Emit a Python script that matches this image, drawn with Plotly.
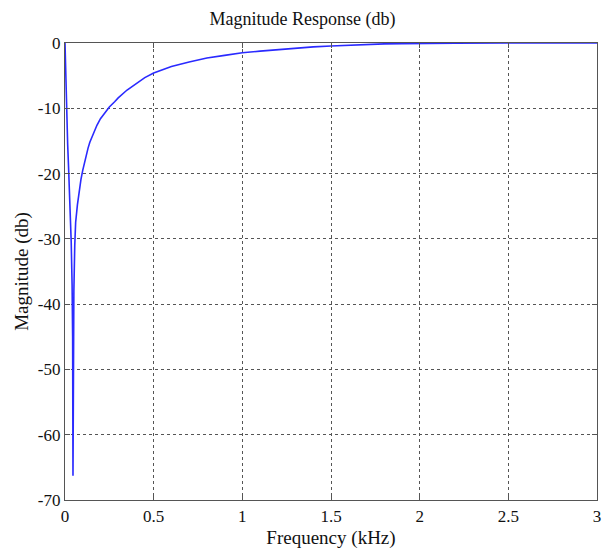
import plotly.graph_objects as go

# Notch filter magnitude response, frequency in kHz, magnitude in dB
freq_khz = [0, 0.002, 0.005, 0.01, 0.015, 0.02, 0.025, 0.03, 0.035, 0.04,
            0.043, 0.045, 0.047, 0.05, 0.055, 0.06, 0.07, 0.08, 0.09, 0.1,
            0.11, 0.12, 0.13, 0.14, 0.16, 0.18, 0.2, 0.22, 0.25, 0.28,
            0.3, 0.35, 0.4, 0.45, 0.5, 0.6, 0.7, 0.8, 0.9, 1.0,
            1.1, 1.2, 1.3, 1.4, 1.5, 1.6, 1.7, 1.8, 1.9, 2.0,
            2.2, 2.5, 3.0]
mag_db = [0, -2.5, -6, -11, -15.5, -19, -22.5, -26, -30.5, -37,
          -45, -66.3, -48, -38, -31, -27.5, -24.8, -22.6, -20.9, -19.5,
          -18.2, -17.1, -16.1, -15.2, -13.8, -12.6, -11.6, -10.8, -9.8, -9.0,
          -8.4, -7.2, -6.2, -5.3, -4.6, -3.6, -2.9, -2.3, -1.9, -1.5,
          -1.25, -1.0, -0.8, -0.6, -0.45, -0.33, -0.2, -0.14, -0.1, -0.06,
          -0.03, -0.01, 0]

x_ticks = [0, 0.5, 1, 1.5, 2, 2.5, 3]
x_tick_text = ["0", "0.5", "1", "1.5", "2", "2.5", "3"]
y_ticks = [-70, -60, -50, -40, -30, -20, -10, 0]
y_tick_text = ["-70", "-60", "-50", "-40", "-30", "-20", "-10", "0"]

serif = "Liberation Serif, Times New Roman, serif"
ink = "#111111"

fig = go.Figure()
fig.add_trace(go.Scatter(
    x=freq_khz, y=mag_db, mode="lines",
    line=dict(color="#2a2aff", width=1.6),
    hoverinfo="skip", showlegend=False,
))

axis_common = dict(
    showline=True, linecolor="#555555", linewidth=1.2, mirror="ticks",
    ticks="inside", ticklen=5, tickcolor="#555555",
    showgrid=True, gridcolor="#555555", gridwidth=1, griddash="3px,3px",
    zeroline=False, ticklabeloverflow="allow",
    tickfont=dict(family=serif, size=17, color=ink),
)

fig.update_xaxes(
    range=[0, 3], tickvals=x_ticks, ticktext=x_tick_text,
    title=dict(text="Frequency (kHz)", font=dict(family=serif, size=19, color=ink), standoff=6),
    **axis_common,
)
fig.update_yaxes(
    range=[-70, 0], tickvals=y_ticks, ticktext=y_tick_text,
    title=dict(text="Magnitude (db)", font=dict(family=serif, size=19, color=ink), standoff=4),
    **axis_common,
)

fig.update_layout(
    width=605, height=557,
    margin=dict(l=65, r=4, t=43, b=57),
    paper_bgcolor="white", plot_bgcolor="white",
    title=dict(text="Magnitude Response (db)", x=0.5, xanchor="center",
               y=0.967, yanchor="middle",
               font=dict(family=serif, size=18, color=ink)),
)

fig.write_html("out.html")
